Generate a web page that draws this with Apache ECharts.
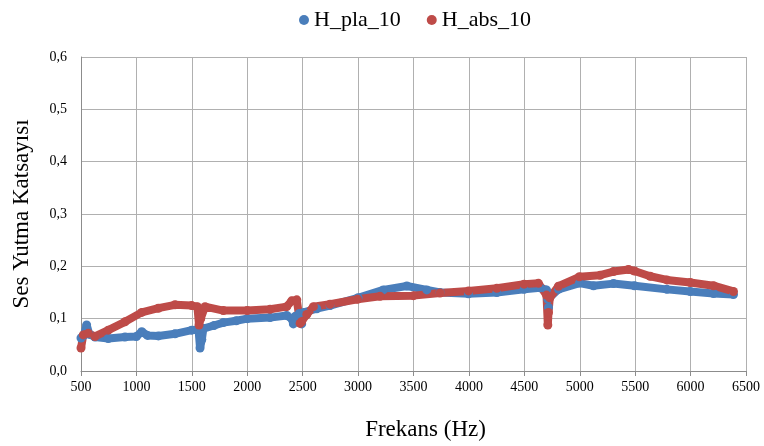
<!DOCTYPE html>
<html><head><meta charset="utf-8">
<script src="https://cdn.jsdelivr.net/npm/echarts@6/dist/echarts.min.js"></script>
<style>html,body{margin:0;padding:0;background:#fff}#c{width:764px;height:446px}</style>
</head><body><div id="c"></div>
<script>
const seriesNames = ['H_pla_10', 'H_abs_10'];
const xTicks = [500, 6500, 500];  // min, max, interval
const yTicks = [0, 0.6, 0.1];

const plaFreq = [500,525,551,575,626,746,897,1000,1048,1100,1198,1348,1499,1560,1574,1590,1604,1700,1784,1900,2000,2206,2356,2401,2416,2430,2470,2491,2510,2627,2747,3000,3228,3440,3620,3740,3996,4252,4498,4643,4700,4712,4718,4725,4808,4997,5124,5304,5494,5786,5997,6207,6387];
const plaVal  = [0.063,0.068,0.088,0.070,0.065,0.062,0.065,0.066,0.075,0.068,0.067,0.071,0.078,0.080,0.044,0.060,0.081,0.087,0.0925,0.096,0.100,0.102,0.106,0.100,0.090,0.104,0.110,0.090,0.112,0.119,0.125,0.140,0.155,0.1625,0.155,0.150,0.1475,0.150,0.156,0.159,0.155,0.137,0.1215,0.140,0.156,0.168,0.163,0.167,0.163,0.156,0.152,0.148,0.146];

const absFreq = [500,521,566,626,746,897,1048,1198,1348,1499,1550,1565,1580,1619,1784,2000,2206,2356,2401,2447,2477,2491,2537,2597,2747,2994,3199,3500,3740,3996,4252,4498,4627,4700,4712,4718,4730,4808,4997,5184,5304,5440,5494,5635,5786,5997,6207,6387];
const absVal  = [0.044,0.069,0.072,0.066,0.078,0.094,0.112,0.120,0.1265,0.125,0.123,0.088,0.100,0.123,0.1155,0.1155,0.118,0.123,0.134,0.136,0.091,0.094,0.108,0.123,0.1276,0.137,0.1427,0.144,0.149,0.153,0.158,0.166,0.1675,0.145,0.088,0.112,0.140,0.162,0.180,0.183,0.190,0.194,0.191,0.181,0.174,0.169,0.163,0.152];

const colors = ['#4a7ebb', '#be4b48'];
const font = 'Liberation Serif';
const pair = (f, v) => f.map((x, i) => [x, v[i]]);

const chart = echarts.init(document.getElementById('c'), null, {renderer: 'canvas'});
chart.setOption({
  animation: false,
  color: colors,
  textStyle: {fontFamily: font},
  legend: {
    top: 4, left: 294,
    icon: 'circle', itemWidth: 10, itemHeight: 10, itemGap: 26,
    textStyle: {fontFamily: font, fontSize: 22, color: '#000'},
    data: seriesNames
  },
  grid: {left: 81, right: 18, top: 57, bottom: 65},
  xAxis: {
    type: 'value', min: xTicks[0], max: xTicks[1], interval: xTicks[2],
    name: 'Frekans (Hz)', nameLocation: 'middle', nameGap: 47,
    nameTextStyle: {fontFamily: font, fontSize: 23, color: '#000', padding: [0, 0, 0, 24]},
    axisLine: {lineStyle: {color: '#8c8c8c'}},
    axisTick: {show: true, length: 5, lineStyle: {color: '#8c8c8c'}},
    axisLabel: {fontFamily: font, fontSize: 14, color: '#000', margin: 9,
      formatter: v => String(v)},
    splitLine: {show: true, lineStyle: {color: '#b0b0b0'}}
  },
  yAxis: {
    type: 'value', min: yTicks[0], max: yTicks[1], interval: yTicks[2],
    name: 'Ses Yutma Katsayısı', nameLocation: 'middle', nameGap: 48,
    nameTextStyle: {fontFamily: font, fontSize: 23, color: '#000'},
    axisLine: {show: true, lineStyle: {color: '#8c8c8c'}},
    axisTick: {show: false},
    axisLabel: {fontFamily: font, fontSize: 14, color: '#000', margin: 14,
      formatter: v => v.toFixed(1).replace('.', ',')},
    splitLine: {show: true, lineStyle: {color: '#b0b0b0'}}
  },
  series: [
    {name: seriesNames[0], type: 'line', data: pair(plaFreq, plaVal),
     symbol: 'circle', symbolSize: 9, showAllSymbol: true,
     lineStyle: {width: 8, color: colors[0]}, itemStyle: {color: colors[0]}},
    {name: seriesNames[1], type: 'line', data: pair(absFreq, absVal),
     symbol: 'circle', symbolSize: 9, showAllSymbol: true,
     lineStyle: {width: 8, color: colors[1]}, itemStyle: {color: colors[1]}}
  ]
});
</script></body></html>
